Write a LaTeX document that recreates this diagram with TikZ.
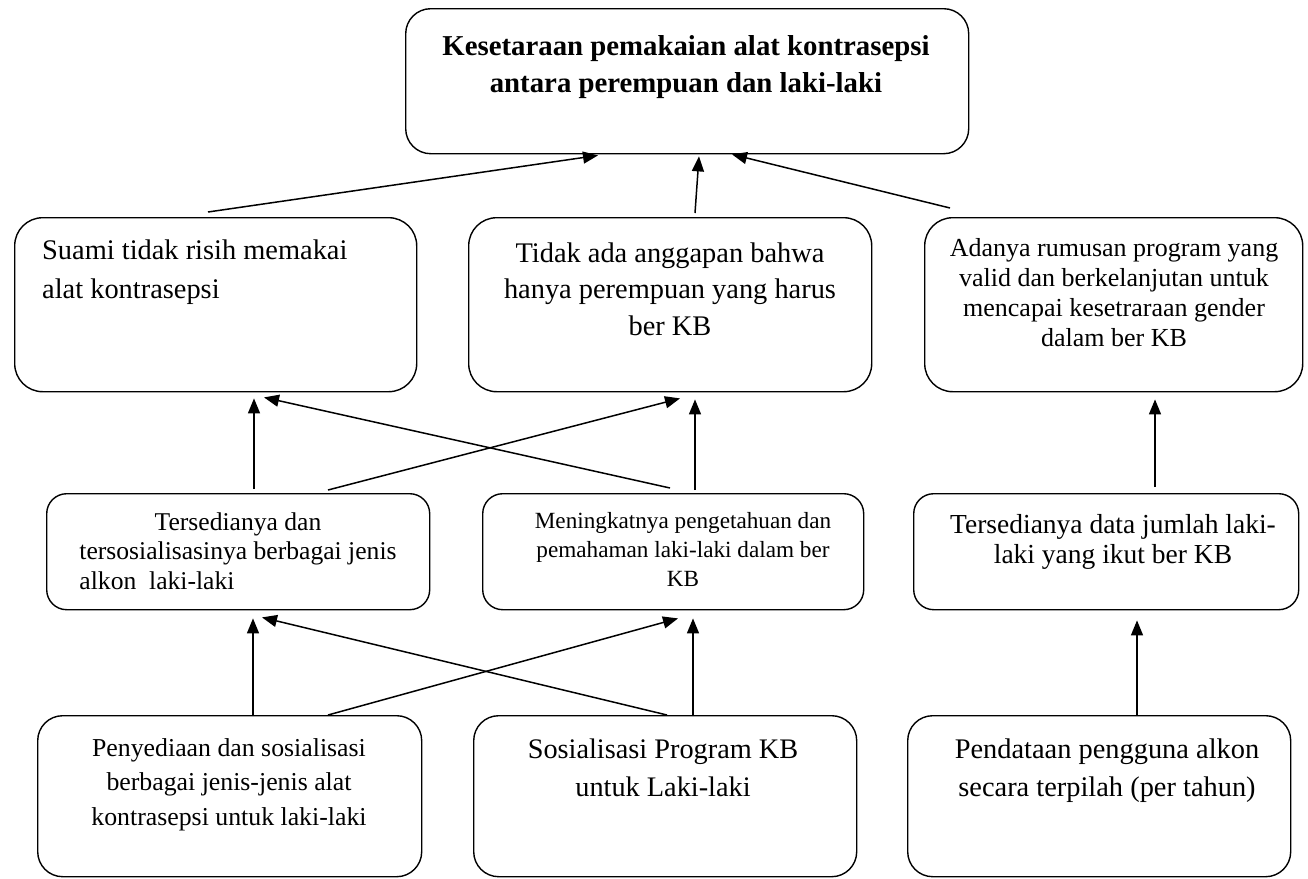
\documentclass[tikz,border=0pt]{standalone}
\usepackage{fontspec}
\setmainfont{Liberation Serif}
\usetikzlibrary{arrows.meta,calc}
\tikzset{
  box/.style={draw, line width=1.4pt, rounded corners=#1, inner sep=0pt, anchor=north west},
  txt/.style={inner sep=0pt},
  arr/.style={line width=1.5pt, -{Triangle[length=15pt,width=12pt]}}
}
\begin{document}
\begin{tikzpicture}[x=1pt,y=-1pt]
\useasboundingbox (0,0) rectangle (1308,878);
% boxes
\node[box=25pt, minimum width=563pt, minimum height=145pt] (T) at (405,8) {};
\node[box=28pt, minimum width=402pt, minimum height=174pt] (A) at (14,217) {};
\node[box=28pt, minimum width=403pt, minimum height=174pt] (B) at (468,217) {};
\node[box=28pt, minimum width=378pt, minimum height=174pt] (C) at (924,217) {};
\node[box=20pt, minimum width=383pt, minimum height=116pt] (Ra) at (46,493) {};
\node[box=20pt, minimum width=381pt, minimum height=116pt] (Rb) at (482,493) {};
\node[box=20pt, minimum width=385pt, minimum height=116pt] (Rc) at (913,493) {};
\node[box=25pt, minimum width=384pt, minimum height=161pt] (Pa) at (37,715) {};
\node[box=25pt, minimum width=383pt, minimum height=161pt] (Pb) at (473,715) {};
\node[box=25pt, minimum width=383pt, minimum height=161pt] (Pc) at (907,715) {};
% texts
\node[txt, anchor=base] (tT) at (686,55) {\fontsize{28.8}{37}\selectfont\bfseries\begin{tabular}[t]{@{}c@{}}Kesetaraan pemakaian alat kontrasepsi\\antara perempuan dan laki-laki\end{tabular}};
\node[txt, anchor=base west] (tA) at (42,259) {\fontsize{28.4}{39}\selectfont\begin{tabular}[t]{@{}l@{}}Suami tidak risih memakai\\alat kontrasepsi\end{tabular}};
\node[txt, anchor=base] (tB) at (670,262) {\fontsize{28.4}{36.5}\selectfont\begin{tabular}[t]{@{}c@{}}Tidak ada anggapan bahwa\\hanya perempuan yang harus\\ber KB\end{tabular}};
\node[txt, anchor=base] (tC) at (1114,256) {\fontsize{26}{30.3}\selectfont\begin{tabular}[t]{@{}c@{}}Adanya rumusan program yang\\valid dan berkelanjutan untuk\\mencapai kesetraraan gender\\dalam ber KB\end{tabular}};
\node[txt, anchor=base] (tRa) at (238,530) {\fontsize{25.6}{29.5}\selectfont\begin{tabular}[t]{@{}l@{}}\multicolumn{1}{@{}c@{}}{Tersedianya dan}\\tersosialisasinya berbagai jenis\\alkon\ \ laki-laki\end{tabular}};
\node[txt, anchor=base] (tRb) at (683,528) {\fontsize{23.2}{29}\selectfont\begin{tabular}[t]{@{}c@{}}Meningkatnya pengetahuan dan\\pemahaman laki-laki dalam ber\\KB\end{tabular}};
\node[txt, anchor=base] (tRc) at (1113,533) {\fontsize{27.5}{30}\selectfont\begin{tabular}[t]{@{}c@{}}Tersedianya data jumlah laki-\\laki yang ikut ber KB\end{tabular}};
\node[txt, anchor=base] (tPa) at (229,756) {\fontsize{25.8}{34.5}\selectfont\begin{tabular}[t]{@{}c@{}}Penyediaan dan sosialisasi\\berbagai jenis-jenis alat\\kontrasepsi untuk laki-laki\end{tabular}};
\node[txt, anchor=base] (tPb) at (663,758) {\fontsize{28.3}{38.5}\selectfont\begin{tabular}[t]{@{}c@{}}Sosialisasi Program KB\\untuk Laki-laki\end{tabular}};
\node[txt, anchor=base] (tPc) at (1107,758) {\fontsize{28.4}{38.5}\selectfont\begin{tabular}[t]{@{}c@{}}Pendataan pengguna alkon\\secara terpilah (per tahun)\end{tabular}};
% connectors row 2 -> top
\draw[arr] ($(A.north west)+(194,-5)$) -- ($(T.south west)+(193,1)$);
\draw[arr] ($(B.north west)+(227,-4)$) -- ($(T.south west)+(294,2)$);
\draw[arr] ($(C.north west)+(26,-9)$) -- ($(T.south west)+(327,0)$);
% row 3 -> row 2
\draw[arr] ($(Ra.north west)+(208,-4)$) -- ($(A.south west)+(240,6)$);
\draw[arr] ($(Rb.north west)+(188,-5)$) -- ($(A.south west)+(250,5)$);
\draw[arr] ($(Ra.north west)+(282,-3)$) -- ($(B.south west)+(212,6)$);
\draw[arr] ($(Rb.north west)+(213,-3)$) -- ($(B.south west)+(227,7)$);
\draw[arr] ($(Rc.north west)+(242,-6)$) -- ($(C.south west)+(231,7)$);
% row 4 -> row 3
\draw[arr] ($(Pa.north west)+(216,0)$) -- ($(Ra.south west)+(207,8)$);
\draw[arr] ($(Pb.north west)+(194,0)$) -- ($(Ra.south west)+(216,7)$);
\draw[arr] ($(Pa.north west)+(291,0)$) -- ($(Rb.south west)+(196,8)$);
\draw[arr] ($(Pb.north west)+(220,0)$) -- ($(Rb.south west)+(211,8)$);
\draw[arr] ($(Pc.north west)+(230,0)$) -- ($(Rc.south west)+(224,10)$);
\end{tikzpicture}
\end{document}
